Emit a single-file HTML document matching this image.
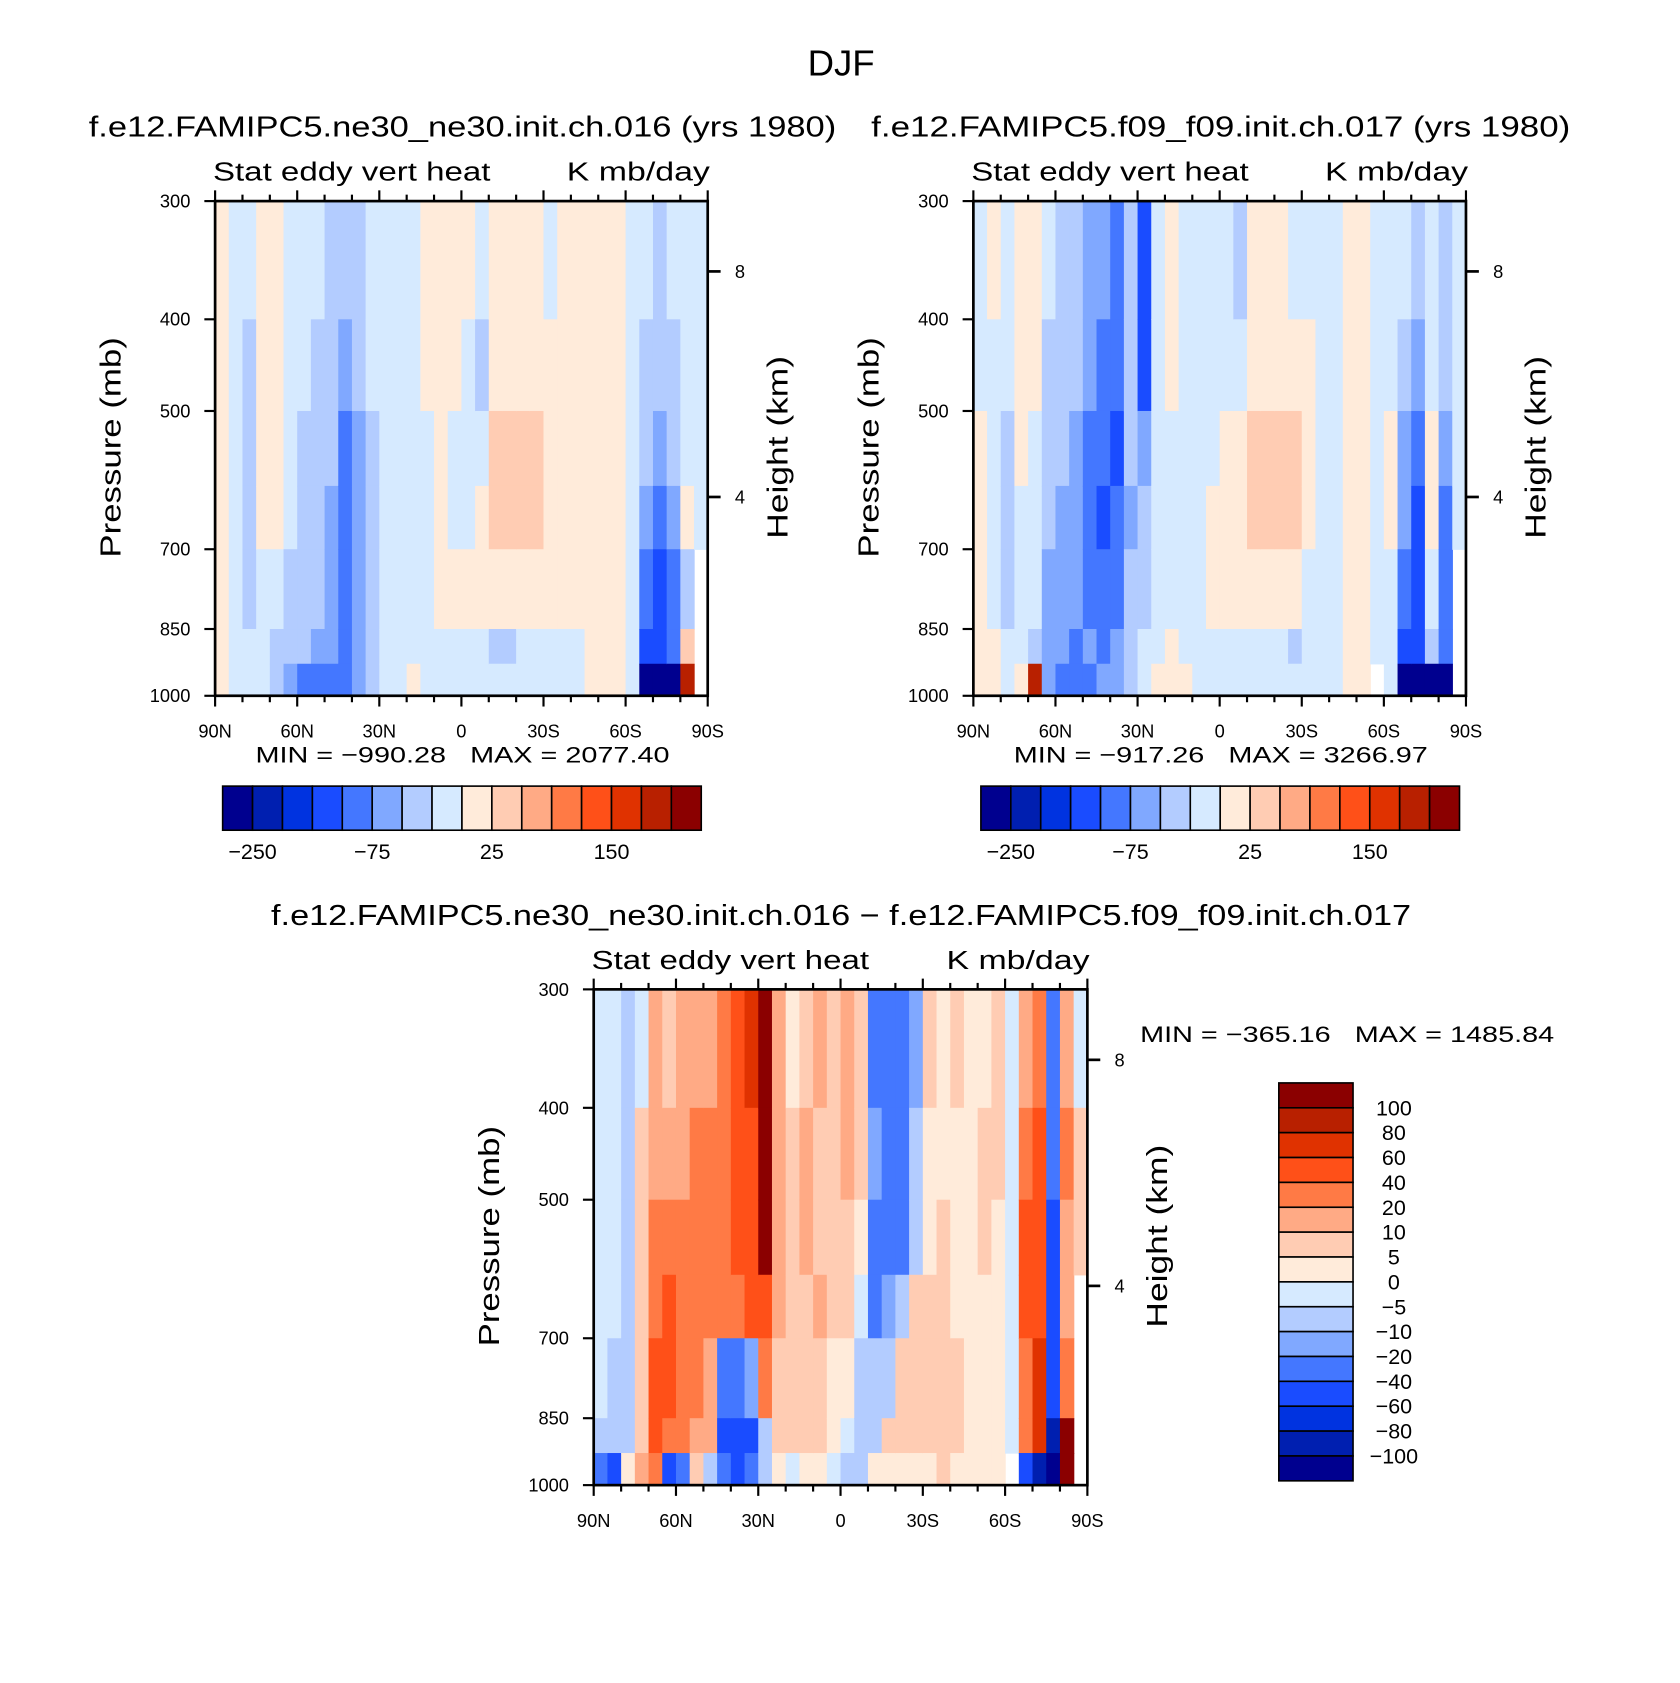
<!DOCTYPE html>
<html><head><meta charset="utf-8"><style>
html,body{margin:0;padding:0;background:#fff;}
svg{display:block;font-family:"Liberation Sans",sans-serif;}
text{white-space:pre;}
</style></head><body>
<svg id="fig" width="1680" height="1683" viewBox="0 0 1562 1565" preserveAspectRatio="none" xmlns="http://www.w3.org/2000/svg"></svg>
<script>
// ---------- data ----------
const latTicks = ["90N","60N","30N","0","30S","60S","90S"];
const pressureTicks = [300,400,500,700,850,1000];
const heightTicks = [8,4];
const pressureEdges = [300,400,500,600,700,850,925,1000];
const latEdgeStart = 90; // columns of 5 deg from 90N to 90S
const levelsTop = [-250,-200,-150,-100,-75,-50,-25,0,25,50,75,100,150,200,250];
const levelsDiff = [-100,-80,-60,-40,-20,-10,-5,0,5,10,20,40,60,80,100];
const labelsTop = ["-250","-75","25","150"];
const labelsDiff = ["100","80","60","40","20","10","5","0","-5","-10","-20","-40","-60","-80","-100"];
const colors = ["#00008f","#001fb0","#0033e0","#1a4cff","#4477ff","#80a8ff","#b3ccff","#d6eaff","#ffebda","#ffccb3","#ffaa85","#ff7a45","#ff5018","#e03200","#b82000","#8b0000"];
// each inner array: one 5-degree column, values for pressure layers 300-400,...,925-1000
const panel1Values = [
[10,10,10,10,10,10,10],[-10,-10,-10,-10,-10,-10,-10],[-10,-35,-35,-35,-35,-10,-10],[10,10,10,10,-10,-10,-10],
[10,10,10,10,-10,-35,-35],[-10,-10,-10,-10,-35,-35,-60],[-10,-10,-35,-35,-35,-35,-80],[-10,-35,-35,-35,-35,-60,-80],
[-35,-35,-35,-60,-60,-60,-80],[-35,-60,-80,-80,-80,-80,-80],[-35,-35,-60,-60,-60,-60,-60],[-10,-10,-35,-35,-35,-35,-35],
[-10,-10,-10,-10,-10,-10,-10],[-10,-10,-10,-10,-10,-10,-10],[-10,-10,-10,-10,-10,-10,10],[10,10,-10,-10,-10,-10,-10],
[10,10,10,10,10,-10,-10],[10,10,-10,-10,10,-10,-10],[10,-10,-10,-10,10,-10,-10],[-10,-35,-10,10,10,-10,-10],
[10,10,35,35,10,-35,-10],[10,10,35,35,10,-35,-10],[10,10,35,35,10,-10,-10],[10,10,35,35,10,-10,-10],
[-10,10,10,10,10,-10,-10],[10,10,10,10,10,-10,-10],[10,10,10,10,10,-10,-10],[10,10,10,10,10,10,10],
[10,10,10,10,10,10,10],[10,10,10,10,10,10,10],[-10,-10,-10,-10,-10,-10,-10],[-10,-35,-35,-60,-80,-120,-300],
[-35,-35,-60,-80,-120,-120,-300],[-10,-35,-35,-60,-80,-80,-300],[-10,-10,-10,10,-35,35,200],[-10,-10,-10,-10,null,null,null]
];
const panel2Values = [
[-10,-10,10,10,10,10,10],[10,-10,-10,-10,-10,10,10],[-10,-10,-35,-35,-35,-10,-10],[10,10,10,-10,-10,-10,10],
[10,10,-10,-10,-10,-35,200],[-10,-35,-35,-35,-60,-60,-60],[-35,-35,-35,-60,-60,-60,-80],[-35,-35,-60,-60,-60,-80,-80],
[-60,-60,-80,-80,-80,-60,-80],[-60,-80,-80,-120,-80,-80,-60],[-80,-80,-120,-80,-80,-60,-60],[-35,-35,-35,-60,-35,-35,-35],
[-120,-120,-60,-35,-35,-10,-10],[-10,-10,-10,-10,-10,-10,10],[10,10,-10,-10,-10,10,10],[-10,-10,-10,-10,-10,-10,10],
[-10,-10,-10,-10,-10,-10,-10],[-10,-10,-10,10,10,-10,-10],[-10,-10,10,10,10,-10,-10],[-35,-10,10,10,10,-10,-10],
[10,10,35,35,10,-10,-10],[10,10,35,35,10,-10,-10],[10,10,35,35,10,-10,-10],[-10,10,35,35,10,-35,-10],
[-10,10,10,10,-10,-10,-10],[-10,-10,-10,-10,-10,-10,-10],[-10,-10,-10,-10,-10,-10,-10],[10,10,10,10,10,10,10],
[10,10,10,10,10,10,10],[-10,-10,-10,-10,-10,-10,null],[-10,-10,10,10,-10,-10,-10],[-10,-35,-60,-60,-80,-120,-300],
[-35,-60,-80,-120,-120,-120,-300],[-10,-10,10,10,-10,-35,-300],[-35,-35,-60,-80,-80,-80,-300],[-10,-10,-10,-10,null,null,null]
];
const panel3Values = [
[-2,-2,-2,-2,-2,-7,-30],[-2,-2,-2,-2,-7,-7,-50],[-7,-7,-7,-7,-7,-7,2],[-2,7,7,7,7,7,15],
[15,15,30,30,50,50,30],[7,15,30,50,50,30,-50],[15,15,30,30,30,30,-30],[15,30,30,30,30,15,7],
[15,30,30,30,15,15,-7],[30,30,30,30,-30,-50,-30],[50,50,50,30,-30,-50,-50],[70,50,50,50,-15,-50,-30],
[120,120,120,50,30,-7,-7],[15,15,15,15,7,7,2],[2,7,7,7,7,7,-2],[7,15,15,7,7,7,2],
[15,7,7,15,7,7,2],[7,7,7,7,2,2,-2],[15,15,7,7,2,-2,-7],[7,7,2,-2,-7,-7,-7],
[-30,-15,-30,-30,-7,-7,2],[-30,-30,-30,-15,-7,7,2],[-30,-30,-30,-7,7,7,2],[-15,-7,-7,7,7,7,2],
[7,2,2,7,7,7,2],[2,2,7,7,7,7,7],[7,2,2,2,7,7,2],[2,2,2,2,2,2,2],
[2,7,7,2,2,2,2],[7,7,2,2,2,2,2],[-2,-2,-2,-2,-2,-2,null],[15,30,50,50,30,30,-50],
[30,50,50,50,70,70,-90],[-30,-30,-50,-50,-50,-90,-120],[15,30,15,15,30,120,120],[-2,7,7,null,null,null,null]
];

// ---------- drawing ----------
const NS = "http://www.w3.org/2000/svg";
const svg = document.getElementById("fig");
function mk(tag, attrs, parent, text) {
  const e = document.createElementNS(NS, tag);
  for (const k in attrs) e.setAttribute(k, attrs[k]);
  if (text !== undefined) e.textContent = text;
  (parent || svg).appendChild(e);
  return e;
}
function colorFor(v, levels) {
  let i = 0;
  while (i < levels.length && v >= levels[i]) i++;
  return colors[i];
}
function txt(x, y, s, size, anchor, name, extra) {
  const t = mk("text", Object.assign({x: x, y: y, "font-size": size, "text-anchor": anchor || "middle", fill: "#000"}, extra || {}), svg, s);
  
  
  return t;
}
function heightToPressure(hKm) {
  return 1013.25 * Math.pow(1 - 2.25577e-5 * hKm * 1000, 5.25588);
}

function drawPanel(L, T, W, H, values, levels, prefix) {
  const xScale = lat => L + (90 - lat) / 180 * W;
  const yScale = p => T + H * (1 - Math.log(1000 / p) / Math.log(1000 / 300));
  const g = mk("g", {});
  
  
  values.forEach((col, ci) => {
    const lat0 = latEdgeStart - ci * 5, lat1 = lat0 - 5;
    col.forEach((v, ri) => {
      if (v === null) return;
      const x0 = xScale(lat0), x1 = xScale(lat1);
      const y0 = yScale(pressureEdges[ri]), y1 = yScale(pressureEdges[ri + 1]);
      const r = mk("rect", {x: x0, y: y0, width: x1 - x0 + 0.6, height: y1 - y0 + 0.6, fill: colorFor(v, levels)}, g);
      
      
    });
  });
  const f = mk("rect", {x: L, y: T, width: W, height: H, fill: "none", stroke: "#000", "stroke-width": 2.5});
  
  
  for (let lat = 90; lat >= -90; lat -= 10) {
    const x = xScale(lat), major = (lat % 30 === 0);
    const len = major ? 10 : 6;
    mk("line", {x1: x, y1: T + H, x2: x, y2: T + H + len, stroke: "#000", "stroke-width": 2});
    mk("line", {x1: x, y1: T, x2: x, y2: T - len, stroke: "#000", "stroke-width": 2});
  }
  latTicks.forEach((s, i) => {
    txt(xScale(90 - i * 30), T + H + 39, s, 17, "middle", prefix + '-x-tick-label');
  });
  pressureTicks.forEach(p => {
    const y = yScale(p);
    mk("line", {x1: L - 10, y1: y, x2: L, y2: y, stroke: "#000", "stroke-width": 2});
    txt(L - 23, y + 6, String(p), 17, "end", prefix + '-y-tick-label');
  });
  heightTicks.forEach(h => {
    const y = yScale(heightToPressure(h));
    mk("line", {x1: L + W, y1: y, x2: L + W + 12, y2: y, stroke: "#000", "stroke-width": 2.5});
    txt(L + W + 30, y + 6, String(h), 17, "middle", prefix + '-height-tick-label');
  });
  txt(L - 2, T - 19, "Stat eddy vert heat", 24, "start", prefix + '-variable-name', {textLength: 258, lengthAdjust: "spacingAndGlyphs"});
  txt(L + W + 2, T - 19, "K mb/day", 24, "end", prefix + '-units', {textLength: 133, lengthAdjust: "spacingAndGlyphs"});
  txt(0, 0, "Pressure (mb)", 27, "middle", prefix + '-y-axis-title', {transform: `translate(${L - 88},${T + H / 2 - 1}) rotate(-90)`, textLength: 205, lengthAdjust: "spacingAndGlyphs"});
  txt(0, 0, "Height (km)", 27, "middle", prefix + '-right-axis-title', {transform: `translate(${L + W + 74},${T + H / 2 - 1}) rotate(-90)`, textLength: 170, lengthAdjust: "spacingAndGlyphs"});
  return {xScale, yScale};
}

function hColorbar(L, T, W, H, levels, labels, prefix) {
  const bw = W / 16;
  colors.forEach((c, i) => {
    const r = mk("rect", {x: L + i * bw, y: T, width: bw, height: H, fill: c, stroke: "#000", "stroke-width": 1.5});
    
    
  });
  labels.forEach(s => {
    const idx = levels.indexOf(Number(s));
    txt(L + (idx + 1) * bw, T + 68, s.replace("-", "\u2212"), 20, "middle", prefix + '-colorbar-label');
  });
}

txt(782, 70, "DJF", 34, "middle", "figure-title");

txt(430, 127, "f.e12.FAMIPC5.ne30_ne30.init.ch.016 (yrs 1980)", 27, "middle", "panel1-title", {textLength: 695, lengthAdjust: "spacingAndGlyphs"});
drawPanel(200, 187, 458, 460, panel1Values, levelsTop, "panel1");
txt(430, 709, "MIN = \u2212990.28   MAX = 2077.40", 21, "middle", "panel1-min-max", {textLength: 385, lengthAdjust: "spacingAndGlyphs"});
hColorbar(207, 731, 445, 41, levelsTop, labelsTop, "panel1");

txt(1135, 127, "f.e12.FAMIPC5.f09_f09.init.ch.017 (yrs 1980)", 27, "middle", "panel2-title", {textLength: 650, lengthAdjust: "spacingAndGlyphs"});
drawPanel(905, 187, 458, 460, panel2Values, levelsTop, "panel2");
txt(1135, 709, "MIN = \u2212917.26   MAX = 3266.97", 21, "middle", "panel2-min-max", {textLength: 385, lengthAdjust: "spacingAndGlyphs"});
hColorbar(912, 731, 445, 41, levelsTop, labelsTop, "panel2");

txt(782, 860, "f.e12.FAMIPC5.ne30_ne30.init.ch.016 \u2212 f.e12.FAMIPC5.f09_f09.init.ch.017", 27, "middle", "panel3-title", {textLength: 1060, lengthAdjust: "spacingAndGlyphs"});
drawPanel(552, 920, 459, 461, panel3Values, levelsDiff, "panel3");
txt(1060, 969, "MIN = \u2212365.16   MAX = 1485.84", 21, "start", "panel3-min-max", {textLength: 385, lengthAdjust: "spacingAndGlyphs"});
(function () {
  const L = 1189, T = 1007, W = 69, H = 370, bh = H / 16;
  for (let i = 0; i < 16; i++) {
    const r = mk("rect", {x: L, y: T + i * bh, width: W, height: bh, fill: colors[15 - i], stroke: "#000", "stroke-width": 1.5});
    
    
  }
  labelsDiff.forEach((s, i) => {
    txt(1296, T + (i + 1) * bh + 7, s.replace("-", "\u2212"), 20, "middle", 'panel3-colorbar-label');
  });
})();
</script>
</body></html>
